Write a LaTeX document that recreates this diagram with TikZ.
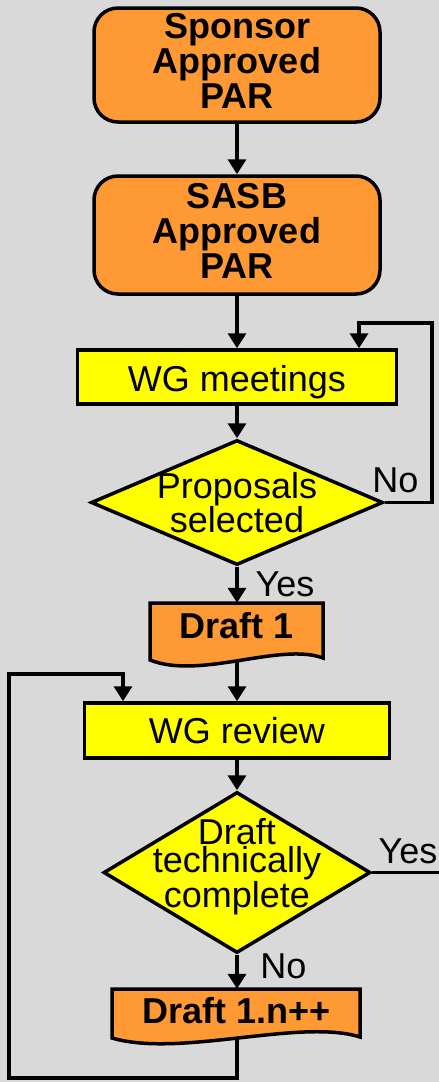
\documentclass[tikz,border=0pt]{standalone}
\usepackage{fontspec}
\setmainfont{Liberation Sans}
\usetikzlibrary{shapes.geometric,arrows.meta}
\definecolor{bg}{HTML}{D9D9D9}
\definecolor{orng}{HTML}{FF9933}
\definecolor{ylw}{HTML}{FFFF00}
\begin{document}
\begin{tikzpicture}[x=1pt,y=-1pt,
  line/.style={line width=3.5pt},
  arr/.style={line width=3.5pt,-{Triangle[width=18pt,length=15pt]}},
  bfnt/.style={font=\bfseries\fontsize{36}{35}\selectfont},
  rfnt/.style={font=\fontsize{36}{28}\selectfont},
  term/.style={draw, line width=3.5pt, fill=orng, rounded corners=24pt, inner sep=0pt, minimum width=286pt},
  proc/.style={draw, line width=3.5pt, fill=ylw, inner sep=0pt, text height=26pt, text depth=0pt, font=\fontsize{36}{36}\selectfont},
  dec/.style={draw, line width=3.5pt, fill=ylw, diamond, inner sep=0pt},
  docbox/.style={inner sep=0pt, text height=26pt, font=\bfseries\fontsize{36}{36}\selectfont},
  doc/.style={draw, line width=3.5pt, fill=orng},
  lbl/.style={inner sep=0pt, text height=26pt, text depth=0pt, font=\fontsize{36}{36}\selectfont},
  inlbl/.style={align=center, inner sep=0pt},
]
\path[fill=bg, use as bounding box] (0,0) rectangle (439,1082);

% terminals
\node[term, minimum height=114pt, label={[inlbl,bfnt,yshift=4.25pt]center:{Sponsor\\Approved\\PAR}}] (b1) at (237,65) {};
\node[term, minimum height=118pt, label={[inlbl,bfnt,yshift=4.25pt]center:{SASB\\Approved\\PAR}}] (b2) at (237,235) {};

% WG meetings
\node[proc, minimum width=319pt, minimum height=54pt, text height=28pt] (wg) at (237,377) {WG meetings};

% decision 1
\node[dec, minimum width=292pt, minimum height=125pt, label={[inlbl,rfnt]center:{Proposals\\selected}}] (q1) at (237,502.5) {};

% Draft 1 document
\draw[doc] (150,603) -- (323,603) -- (323,658) .. controls (280,642) and (200,680) .. (150,660) -- cycle;
\node[docbox, minimum width=173pt, minimum height=57pt, text depth=12pt] (d1) at (237,631.5) {Draft 1};

% WG review
\node[proc, minimum width=305pt, minimum height=55pt] (rev) at (237,730.5) {WG review};

% decision 2
\node[dec, minimum width=267pt, minimum height=161pt, label={[inlbl,font=\fontsize{36}{28}\selectfont,yshift=6pt]center:{Draft\\technically\\complete}}] (q2) at (237,872.5) {};

% Draft 1.n++ document
\draw[doc] (112,989) -- (360,989) -- (360,1037) .. controls (300,1018) and (180,1058) .. (112,1038) -- cycle;
\node[docbox, minimum width=248pt, minimum height=49pt, text depth=7pt] (dn) at (237,1013.5) {Draft 1.n++};

% main flow
\draw[arr] (b1.south) -- (b2.north);
\draw[arr] (b2.south) -- (wg.north);
\draw[arr] (wg.south) -- (q1.north);
\draw[arr] (q1.south) -- (d1.north);
\draw[arr] (d1.south) -- (rev.north);
\draw[arr] (rev.south) -- (q2.north);
\draw[arr] (q2.south) -- (dn.north);

% loops
\coordinate (c1) at (432,323);
\coordinate (c2) at (359,323);
\draw[arr] (q1.east) -| (c1) -- (c2) -- (wg.north -| c2);
\coordinate (c3) at (9,1078);
\coordinate (c4) at (123,674);
\draw[arr] (dn.south) |- (c3) |- (c4) -- (rev.north -| c4);
\coordinate (c5) at (439,872.5);
\draw[line] (q2.east) -- (c5);

% labels
\node[lbl] (no1) at (395.5,479) {No};
\node[lbl] (yes1) at (285,583) {Yes};
\node[lbl] (yes2) at (408,850) {Yes};
\node[lbl] (no2) at (283.5,965) {No};
\end{tikzpicture}
\end{document}
